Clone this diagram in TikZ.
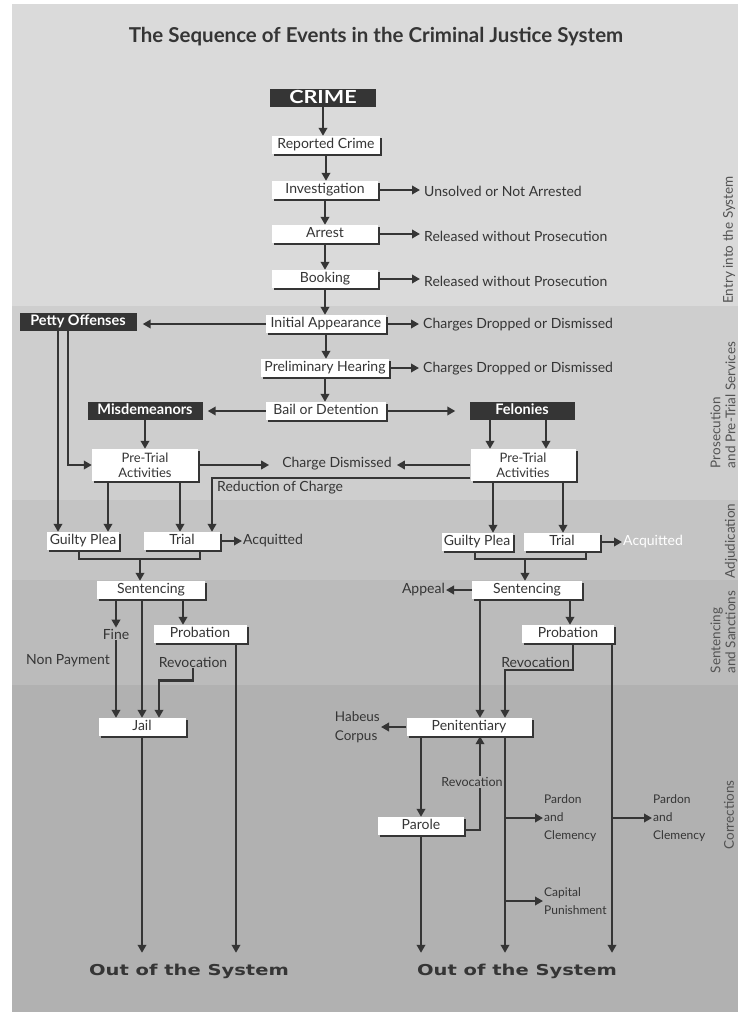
\documentclass[tikz,border=0pt]{standalone}
\usepackage{fontspec}
\setmainfont{Lato}
\newfontfamily\widefont{DejaVu Sans}
\usetikzlibrary{arrows.meta,shadows,calc}
\definecolor{ink}{HTML}{353535}
\definecolor{bandA}{HTML}{DADADA}
\definecolor{bandB}{HTML}{CECECE}
\definecolor{bandC}{HTML}{C4C4C4}
\definecolor{bandD}{HTML}{BBBBBB}
\definecolor{bandE}{HTML}{B1B1B1}
\begin{document}
\begin{tikzpicture}[x=1pt,y=-1pt,font=\fontsize{14}{16}\selectfont,
  box/.style={fill=white,text=ink,minimum height=18pt,inner sep=1pt,text height=10pt,text depth=3pt,
    drop shadow={shadow xshift=2pt,shadow yshift=-2pt,fill=ink,opacity=1}},
  pbox/.style={fill=white,text=ink,inner sep=1pt,align=center,font=\fontsize{13}{15}\selectfont,
    drop shadow={shadow xshift=2pt,shadow yshift=-2pt,fill=ink,opacity=1}},
  dbox/.style={fill=ink,text=white,font=\fontsize{14.5}{16}\selectfont\bfseries,minimum height=18pt,inner sep=1pt,text height=10.5pt,text depth=3pt},
  lbl/.style={text=ink,inner sep=1pt},
  small/.style={text=ink,inner sep=1pt,font=\fontsize{12}{18}\selectfont,align=left},
  arr/.style={draw=ink,line width=2.5pt,-{Triangle[length=8pt,width=8.5pt]}},
  ln/.style={draw=ink,line width=2.5pt},
  bandlbl/.style={font=\fontsize{13.5}{15}\selectfont,text=ink!85,rotate=90,align=left,inner sep=0pt},
  outsys/.style={text=ink,inner sep=0pt,minimum height=36pt,font=\widefont\bfseries\fontsize{15}{17}\selectfont}]
\path[use as bounding box] (0,0) rectangle (742,1012);
\fill[white] (0,0) rectangle (742,1012);
\fill[bandA] (12,4) rectangle (738,306);
\fill[bandB] (12,306) rectangle (738,500);
\fill[bandC] (12,500) rectangle (738,580);
\fill[bandD] (12,580) rectangle (738,685);
\fill[bandE] (12,685) rectangle (738,1012);

\node[font=\fontsize{20.5}{24}\selectfont\bfseries,text=ink] (title) at (376,37) {The Sequence of Events in the Criminal Justice System};

% band labels
\node[bandlbl] (b1) at (729,240) {Entry into the System};
\node[bandlbl] (b2) at (723,405) {Prosecution\\and Pre-Trial Services};
\node[bandlbl] (b3) at (731,541) {Adjudication};
\node[bandlbl] (b4) at (723,632) {Sentencing\\and Sanctions};
\node[bandlbl] (b5) at (729,815) {Corrections};

% main column
\node[dbox,minimum width=106pt,font=\fontsize{18}{20}\selectfont\bfseries,text height=12.5pt,text depth=2pt] (crime) at (323,98) {\scalebox{1.2}[1]{CRIME}};
\node[box,minimum width=108pt] (rep) at (326,145) {Reported Crime};
\node[box,minimum width=106pt] (inv) at (325,190) {Investigation};
\node[box,minimum width=106pt] (arrest) at (325,234) {Arrest};
\node[box,minimum width=106pt] (book) at (325,279) {Booking};
\node[box,minimum width=120pt] (init) at (326,324) {Initial Appearance};
\node[box,minimum width=128pt] (prel) at (325,368) {Preliminary Hearing};
\node[box,minimum width=120pt] (bail) at (326,411) {Bail or Detention};

\draw[arr] (crime.south) -- (crime.south |- rep.north);
\draw[arr] (rep.south) -- (rep.south |- inv.north);
\draw[arr] (inv.south) -- (inv.south |- arrest.north);
\draw[arr] (arrest.south) -- (arrest.south |- book.north);
\draw[arr] (book.south) -- (book.south |- init.north);
\draw[arr] (init.south) -- (init.south |- prel.north);
\draw[arr] (prel.south) -- (prel.south |- bail.north);

\node[lbl,anchor=west] (o1) at (423,191) {Unsolved or Not Arrested};
\node[lbl,anchor=west] (o2) at (423,236) {Released without Prosecution};
\node[lbl,anchor=west] (o3) at (423,281) {Released without Prosecution};
\node[lbl,anchor=west] (o4) at (422,325) {Charges Dropped or Dismissed};
\node[lbl,anchor=west] (o5) at (422,369) {Charges Dropped or Dismissed};
\draw[arr,shorten >=3pt] (inv.east) -- (inv.east -| o1.west);
\draw[arr,shorten >=3pt] (arrest.east) -- (arrest.east -| o2.west);
\draw[arr,shorten >=3pt] (book.east) -- (book.east -| o3.west);
\draw[arr,shorten >=3pt] (init.east) -- (init.east -| o4.west);
\draw[arr,shorten >=3pt] (prel.east) -- (prel.east -| o5.west);

% classification
\node[dbox,minimum width=117pt] (petty) at (78,322) {Petty Offenses};
\node[dbox,minimum width=115pt] (misd) at (145,411) {Misdemeanors};
\node[dbox,minimum width=105pt] (fel) at (522,411) {Felonies};
\draw[arr,shorten >=6pt] (init.west) -- (init.west -| petty.east);
\draw[arr,shorten >=5pt] (bail.west) -- (bail.west -| misd.east);
\draw[arr,shorten >=14pt] (bail.east) -- (bail.east -| fel.west);

% pre-trial
\node[pbox,minimum width=106pt,minimum height=32pt] (ptl) at (145,465) {Pre-Trial\\Activities};
\node[pbox,minimum width=105pt,minimum height=32pt] (ptr) at (523,465) {Pre-Trial\\Activities};
\draw[arr] (misd.south) -- (misd.south |- ptl.north);
\draw[arr] ([xshift=-32pt]fel.south) -- ([xshift=-32pt]fel.south |- ptr.north);
\draw[arr] ([xshift=24pt]fel.south) -- ([xshift=24pt]fel.south |- ptr.north);
\node[lbl] (chd) at (337,464) {Charge Dismissed};
\draw[arr,shorten >=12pt] (ptl.east) -- (ptl.east -| chd.west);
\draw[arr,shorten >=4pt] (ptr.west) -- (ptr.west -| chd.east);

% adjudication left
\node[box,minimum width=72pt] (gpl) at (83,541) {Guilty Plea};
\node[box,minimum width=76pt] (trl) at (182,541) {Trial};
\node[lbl,anchor=west] (acql) at (242,541) {Acquitted};
\draw[arr] (trl.east) -- (acql.west);
\draw[arr] ([xshift=-20pt]petty.south) -- ([xshift=-25pt]gpl.north);
\draw[arr] ([xshift=-10pt]petty.south) |- (ptl.west);
\draw[arr] ([xshift=-37pt]ptl.south) -- ([xshift=25pt]gpl.north);
\draw[arr] ([xshift=35pt]ptl.south) -- ([xshift=-2pt]trl.north);
\draw[arr] ([yshift=3pt]ptr.south west) -| ([xshift=30pt]trl.north);
\node[lbl,anchor=west] (red) at (216,488) {Reduction of Charge};
\draw[ln] ([xshift=-4pt]gpl.south) -- ++(0,9) -| ([xshift=18pt]trl.south);
\coordinate (bl) at (140,559);

% sentencing left
\node[box,minimum width=108pt] (sentl) at (151,590) {Sentencing};
\draw[arr] (bl) -- (bl |- sentl.north);
\node[lbl] (fine) at (116,634) {Fine};
\node[box,minimum width=93pt] (probl) at (200,634) {Probation};
\node[box,minimum width=87pt] (jail) at (142,727) {Jail};
\node[lbl] (np) at (68,661) {Non Payment};
\node[lbl] (revl) at (193,662) {Revocation};
\draw[arr] (sentl.south -| fine.north) -- (fine.north);
\draw[arr] (fine.south) -- (fine.south |- jail.north);
\draw[arr] (sentl.south -| jail.north) -- (jail.north);
\draw[arr] ([xshift=32pt]sentl.south) -- ([xshift=-17pt]probl.north);
\draw[arr] (revl.south) -- ++(0,12) -| ([xshift=17pt]jail.north);
\node[outsys] (outl) at (189,971) {\scalebox{1.3}[1]{Out of the System}};
\draw[arr] (jail.south) -- (jail.south |- outl.north);
\draw[arr] ([xshift=36pt]probl.south) -- ([xshift=36pt]probl.south |- outl.north);

% adjudication right
\node[box,minimum width=71pt] (gpr) at (477,542) {Guilty Plea};
\node[box,minimum width=76pt] (trr) at (562,542) {Trial};
\draw[arr] ([xshift=-30pt]ptr.south) -- ([xshift=-30pt]ptr.south |- gpr.north);
\draw[arr] ([xshift=40pt]ptr.south) -- ([xshift=40pt]ptr.south |- trr.north);
\node[lbl,anchor=west,text=white] (acqr) at (622,542) {Acquitted};
\draw[arr] (trr.east) -- (acqr.west);
\draw[ln] ([xshift=-2pt]gpr.south) -- ++(0,8) -| ([xshift=24pt]trr.south);
\coordinate (br) at (525,559);

% sentencing right
\node[box,minimum width=110pt] (sentr) at (527,590) {Sentencing};
\draw[arr] (br) -- (br |- sentr.north);
\node[lbl,anchor=east] (appeal) at (446,590) {Appeal};
\draw[arr] (sentr.west) -- (appeal.east);
\node[box,minimum width=92pt] (probr) at (568,634) {Probation};
\node[box,minimum width=125pt] (pen) at (469,727) {Penitentiary};
\draw[arr] ([xshift=43pt]sentr.south) -- ([xshift=43pt]sentr.south |- probr.north);
\draw[arr] ([xshift=-47pt]sentr.south) -- ([xshift=-47pt]sentr.south |- pen.north);
\draw[arr] ([xshift=5pt]probr.south) -- ++(0,27) -| ([xshift=36pt]pen.north);
\node[lbl,anchor=south east] (revr) at (571,669) {Revocation};

% corrections right
\node[lbl,anchor=east,align=left,font=\fontsize{13.5}{19}\selectfont] (hab) at (381,727) {Habeus\\Corpus};
\draw[arr] (pen.west) -- (hab.east);
\node[box,minimum width=86pt] (par) at (421,826) {Parole};
\draw[arr] ([xshift=-48pt]pen.south) -- ([xshift=-48pt]pen.south |- par.north);
\draw[arr] ([yshift=-4pt]par.east) -| ([xshift=11pt]pen.south);
\node[lbl,fill=bandE,font=\fontsize{12.5}{14}\selectfont] (revp) at (472,782) {Revocation};
\node[outsys] (outr) at (517,971) {\scalebox{1.3}[1]{Out of the System}};
\draw[arr] (par.south) -- (par.south |- outr.north);
\draw[arr] ([xshift=36pt]pen.south) -- ([xshift=36pt]pen.south |- outr.north);
\node[small,anchor=west] (pc1) at (543,818) {Pardon\\and\\Clemency};
\node[small,anchor=west] (cap) at (543,901) {Capital\\Punishment};
\draw[arr] ([xshift=36pt]pen.south |- pc1.west) -- (pc1.west);
\draw[arr] ([xshift=36pt]pen.south |- cap.west) -- (cap.west);
\draw[arr] ([xshift=44pt]probr.south) -- ([xshift=44pt]probr.south |- outr.north);
\node[small,anchor=west] (pc2) at (652,818) {Pardon\\and\\Clemency};
\draw[arr] ([xshift=44pt]probr.south |- pc2.west) -- (pc2.west);
\end{tikzpicture}
\end{document}
